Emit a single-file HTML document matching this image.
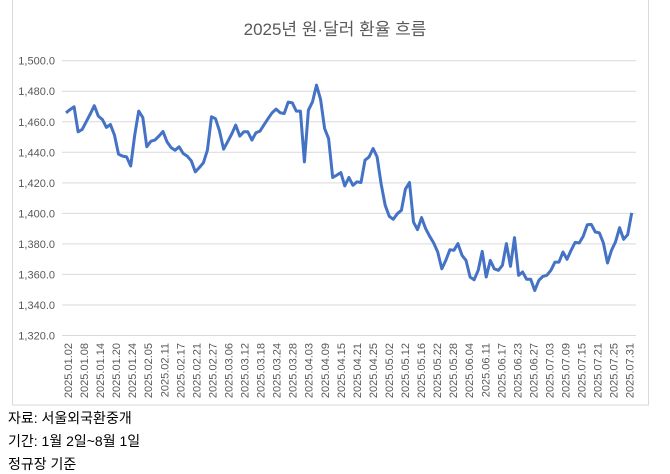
<!DOCTYPE html>
<html><head><meta charset="utf-8"><style>
body{margin:0;width:670px;height:473px;background:#fff;overflow:hidden;font-family:"Liberation Sans","Noto Sans CJK KR",sans-serif}
.note{position:absolute;left:8px;font-size:14px;color:#000}
</style></head><body>
<svg width="670" height="473" style="position:absolute;left:0;top:0">
<rect x="12.5" y="-1" width="636" height="406" fill="#fff" stroke="#d9d9d9"/>
<text x="335" y="35" text-anchor="middle" font-size="17" fill="#595959" font-family="Liberation Sans, Noto Sans CJK KR, sans-serif">2025년 원·달러 환율 흐름</text>
<g id="grid"></g><g id="ylab"></g><g id="xlab"></g>
<path id="line" fill="none" stroke="#4472c4" stroke-width="3" stroke-linejoin="round"/>
</svg>
<div class="note" style="top:408px">자료: 서울외국환중개</div>
<div class="note" style="top:431px">기간: 1월 2일~8월 1일</div>
<div class="note" style="top:454px">정규장 기준</div>
<script>
const xLabels=["2025.01.02","2025.01.08","2025.01.14","2025.01.20","2025.01.24","2025.02.05","2025.02.11","2025.02.17","2025.02.21","2025.02.27","2025.03.06","2025.03.12","2025.03.18","2025.03.24","2025.03.28","2025.04.03","2025.04.09","2025.04.15","2025.04.21","2025.04.25","2025.05.02","2025.05.12","2025.05.16","2025.05.22","2025.05.28","2025.06.04","2025.06.11","2025.06.17","2025.06.23","2025.06.27","2025.07.03","2025.07.09","2025.07.15","2025.07.21","2025.07.25","2025.07.31"];
const yTicks=[1320,1340,1360,1380,1400,1420,1440,1460,1480,1500];
const rates=[1465.9,1468,1469.8,1453.4,1455,1460,1465,1470.5,1463.7,1461.5,1456.3,1458.2,1451.2,1438.8,1437.5,1437,1431,1451.2,1467,1462.8,1443.6,1447.3,1448,1450.6,1453.6,1446.9,1443.1,1441.4,1443.6,1439.2,1437.5,1434.4,1427.2,1430,1433.1,1441.4,1463.3,1462,1454,1442,1446.9,1452,1457.8,1450.6,1453.4,1453.4,1448,1452.8,1453.9,1458,1462,1465.9,1468.3,1465.9,1465.4,1472.9,1472.4,1467,1467,1433.7,1467.6,1473.1,1484,1474.6,1455.6,1449,
1423.5,1425,1426.7,1418,1423.5,1418.4,1420.6,1420.2,1434.8,1437,1442.5,1437,1419,1405.3,1398,1396.1,1399.8,1402,1415.8,1420.2,1394.3,1389.3,1397.2,1390,1385,1380.6,1374.7,1363.7,1369.2,1376.2,1375.8,1380.2,1372.5,1369.2,1358.3,1356.5,1362.7,1375.1,1358.3,1369.2,1363.7,1362.7,1366,1380.2,1365.3,1384.1,1359.4,1361.6,1356.8,1356.8,1349.5,1356.1,1358.7,1359.4,1362.7,1368.1,1368.1,1374.7,1369.9,1375.8,1381,1380.6,1385,1392.6,1392.8,1387.8,1387.2,1380.6,1367.5,1375.8,1381.3,1390.6,1383,1386.1,1400.3];
const NS="http://www.w3.org/2000/svg";
const yMin=1320,yMax=1500,yTop=60.7,yBot=335.5,xL=66,xR=631.7;
const ys=v=>yBot-(v-yMin)/(yMax-yMin)*(yBot-yTop);
const xs=i=>xL+i*(xR-xL)/(rates.length-1);
const grid=document.getElementById('grid'),yl=document.getElementById('ylab'),xl=document.getElementById('xlab');
yTicks.forEach(t=>{
 const l=document.createElementNS(NS,'line');
 
 
 l.setAttribute('x1',62);l.setAttribute('x2',636);l.setAttribute('y1',ys(t));l.setAttribute('y2',ys(t));
 l.setAttribute('stroke','#d9d9d9');grid.appendChild(l);
 const tx=document.createElementNS(NS,'text');
 
 
 tx.setAttribute('x',55);tx.setAttribute('y',ys(t)+4);tx.setAttribute('text-anchor','end');
 tx.setAttribute('font-size','11');tx.setAttribute('fill','#595959');
 tx.textContent=t.toLocaleString('en-US',{minimumFractionDigits:1});yl.appendChild(tx);
});
const n=xLabels.length;
xLabels.forEach((s,i)=>{
 const x=xL+2+i*(xR-xL-4)/(n-1);
 const tx=document.createElementNS(NS,'text');
 
 
 tx.setAttribute('transform','translate('+(x+4)+',343) rotate(-90)');
 tx.setAttribute('text-anchor','end');tx.setAttribute('font-size','11');tx.setAttribute('fill','#595959');
 tx.textContent=s;xl.appendChild(tx);
});
document.getElementById('line').setAttribute('d',rates.map((v,i)=>(i?'L':'M')+xs(i).toFixed(1)+','+ys(v).toFixed(1)).join(''));
</script>
</body></html>
